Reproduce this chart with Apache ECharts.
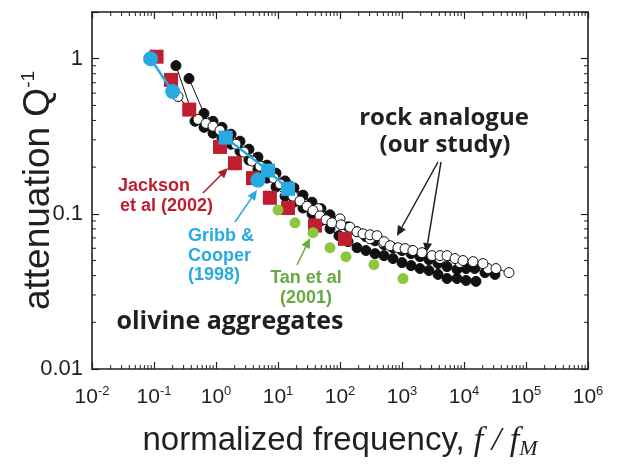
<!DOCTYPE html>
<html><head><meta charset="utf-8">
<script src="https://cdn.jsdelivr.net/npm/echarts@6/dist/echarts.min.js"></script>
<style>html,body{margin:0;padding:0;background:#fff}#c{width:617px;height:468px}</style>
</head><body><div id="c"></div>
<script>
// ---- tick data ----
const xTickExponents = [-2,-1,0,1,2,3,4,5,6];
const yTickLabels = ['0.01','0.1','1'];
const minorMultipliers = [2,3,4,5,6,7,8,9];
const xDecades = [0.01,0.1,1,10,100,1000,10000,100000];
const yDecades = [0.01,0.1,1];

// ---- series data [f/fM, Q^-1] ----
const jackson = [[0.11,1.03],[0.188,0.73],[0.37,0.47],[1.16,0.27],[2.02,0.212],[3.95,0.17],[7.4,0.127],[14.5,0.109],[39.5,0.084],[120,0.069]];
const gribbCirclesHigh = [[0.088,1.0],[0.2,0.615]];
const gribbCircleLow = [[4.75,0.165]];
const gribbSquares = [[1.43,0.31],[6.9,0.19],[14.5,0.145]];
const tan = [[10,0.106],[18.8,0.0875],[36.7,0.0756],[69,0.0605],[125,0.053],[353,0.047],[1040,0.0383]];

const rockFilledA = [[0.226,0.902],[0.458,0.395],[0.64,0.361],[0.895,0.331],[1.25,0.307],[1.75,0.281],[2.44,0.253],[3.40,0.222],[4.75,0.194],[6.65,0.170],[9.29,0.149],[13.0,0.130],[18.1,0.119],[25.3,0.109],[35.3,0.100],[49.4,0.0902],[69,0.0802],[96,0.0723],[135,0.0662],[188,0.0605],[262,0.058],[367,0.0554],[513,0.0538],[716,0.0515],[1000,0.0485],[1400,0.0464],[1950,0.0444],[2720,0.0431],[3810,0.0407],[5320,0.0383],[7710,0.0383],[10800,0.0372],[15600,0.0367]];
const rockFilledB = [[0.367,0.745],[0.64,0.444],[0.895,0.395],[1.25,0.361],[1.75,0.326],[2.44,0.294],[3.40,0.261],[4.75,0.232],[6.65,0.206],[9.29,0.183],[13.0,0.163],[18.1,0.147],[25.3,0.132],[35.3,0.119],[49.4,0.108],[69,0.0986],[96,0.0902],[135,0.0826],[188,0.0767],[262,0.0713],[367,0.0671],[513,0.0633],[716,0.0605],[1000,0.058],[1400,0.0554],[1950,0.053],[2720,0.0507],[3810,0.0478],[5320,0.0457],[7710,0.0438],[10800,0.0444],[14900,0.0444],[21800,0.0418],[31600,0.0407]];
const rockOpenA = [[0.244,0.571],[0.381,0.471],[0.513,0.406],[0.69,0.383],[0.895,0.367],[1.16,0.345],[1.56,0.321],[2.10,0.281],[2.83,0.25],[3.81,0.219],[5.13,0.203],[6.65,0.189],[8.6,0.170],[10.8,0.156],[14.0,0.143],[17.5,0.130],[22.6,0.121],[29.4,0.112],[36.7,0.105],[47.5,0.097],[59.4,0.0916],[74,0.0875],[104,0.085],[145,0.082],[188,0.0767],[235,0.0744],[305,0.0733],[395,0.0723],[513,0.0662],[640,0.0623],[861,0.0605],[1120,0.0597],[1500,0.058],[2100,0.0562],[3050,0.0538],[4100,0.0538],[5320,0.0538],[7160,0.0515],[9640,0.050],[14000,0.0492],[20200,0.0478],[32800,0.0444],[53200,0.0418]];
const rockOpenB = [[15.6,0.151],[44.2,0.108],[100,0.0929],[305,0.0691],[494,0.0652],[1450,0.058],[4100,0.0515],[8610,0.0485],[24400,0.0444]];

const INK = '#231f20';
const RED = '#be1e2d', BLUE = '#27aae1', GREEN = '#8dc63f', GREEN_TXT = '#6aa842';

const chart = echarts.init(document.getElementById('c'), null, {renderer:'canvas'});

function xLabel(v){
  const e = Math.round(Math.log10(v));
  if (Math.abs(Math.log10(v) - e) > 1e-6 || xTickExponents.indexOf(e) < 0) return '';
  return '{b|10}{s|' + e + '}';
}
function yLabel(v){
  for (const l of yTickLabels) { if (Math.abs(parseFloat(l) - v) / v < 1e-6) return l; }
  return '';
}
const tickStyle = {color: INK, width: 1.2};
function baseAxis(extra){
  return Object.assign({
    type:'log', logBase:10,
    axisLine:{show:true, lineStyle:{color:INK, width:1.6}},
    axisTick:{show:true, inside:true, length:7, lineStyle:tickStyle},
    splitLine:{show:false}, minorTick:{show:false}, minorSplitLine:{show:false},
    nameMoveOverlap:false
  }, extra);
}

function minorX(params, api){
  const cs = params.coordSys; const base = api.value(0); const ch = [];
  minorMultipliers.forEach(m => {
    const px = api.coord([base*m, 1])[0];
    ch.push({type:'line', shape:{x1:px, y1:cs.y+cs.height, x2:px, y2:cs.y+cs.height-4}, style:{stroke:INK, lineWidth:1}});
    ch.push({type:'line', shape:{x1:px, y1:cs.y, x2:px, y2:cs.y+4}, style:{stroke:INK, lineWidth:1}});
  });
  return {type:'group', children:ch};
}
function minorY(params, api){
  const cs = params.coordSys; const base = api.value(1); const ch = [];
  minorMultipliers.forEach(m => {
    if (base*m >= 1.99) return;
    const py = api.coord([1, base*m])[1];
    ch.push({type:'line', shape:{x1:cs.x, y1:py, x2:cs.x+4, y2:py}, style:{stroke:INK, lineWidth:1}});
    ch.push({type:'line', shape:{x1:cs.x+cs.width, y1:py, x2:cs.x+cs.width-4, y2:py}, style:{stroke:INK, lineWidth:1}});
  });
  return {type:'group', children:ch};
}

function arrow(x1,y1,x2,y2,color){
  const a = Math.atan2(y2-y1, x2-x1), L = 10, W = 4.5;
  const bx = x2 - L*Math.cos(a), by = y2 - L*Math.sin(a);
  return [
    {type:'line', shape:{x1:x1,y1:y1,x2:bx,y2:by}, style:{stroke:color, lineWidth:1.5}},
    {type:'polygon', shape:{points:[[x2,y2],[bx - W*Math.sin(a), by + W*Math.cos(a)],[bx + W*Math.sin(a), by - W*Math.cos(a)]]}, style:{fill:color}}
  ];
}
function txt(text, x, y, font, color, align){
  return {type:'text', style:{text:text, x:x, y:y, font:font, fill:color,
    align:align||'left', textAlign:align||'left', verticalAlign:'middle', textVerticalAlign:'middle'}};
}

const filledStyle = {color:'#111', borderColor:'#111', borderWidth:1, opacity:1};
const openStyle = {color:'#fff', borderColor:'#111', borderWidth:1, opacity:1};

const option = {
  animation:false,
  backgroundColor:'#fff',
  grid:{left:92, right:29, top:12, bottom:99, containLabel:false, outerBoundsMode:'none'},
  xAxis:[
    baseAxis({min:0.01, max:1e6, position:'bottom',
      axisLabel:{formatter:xLabel, margin:16, rich:{
        b:{fontSize:21, fontFamily:'Liberation Sans', color:INK, lineHeight:24},
        s:{fontSize:13, fontFamily:'Liberation Sans', color:INK, lineHeight:13, verticalAlign:'top'}}},
      name:'{n|normalized frequency, }{i|f / f}{sub|M}', nameLocation:'middle', nameGap:53,
      nameTextStyle:{rich:{
        n:{fontSize:33, fontFamily:'Liberation Sans', color:INK, lineHeight:38},
        i:{fontSize:34, fontFamily:'Liberation Serif', fontStyle:'italic', color:INK, lineHeight:38},
        sub:{fontSize:22, fontFamily:'Liberation Serif', fontStyle:'italic', color:INK, lineHeight:20, verticalAlign:'bottom'}}}
    }),
    baseAxis({min:0.01, max:1e6, position:'top', axisLabel:{show:false}})
  ],
  yAxis:[
    baseAxis({min:0.01, max:2, position:'left',
      axisLabel:{formatter:yLabel, margin:9, fontSize:22, fontFamily:'Liberation Sans', color:INK},
      name:'{n|attenuation Q}{s|-1}', nameLocation:'middle', nameRotate:90, nameGap:33,
      nameTextStyle:{rich:{
        n:{fontSize:37, fontFamily:'Liberation Sans', color:INK, lineHeight:40},
        s:{fontSize:19, fontFamily:'Liberation Sans', color:INK, lineHeight:19, verticalAlign:'top'}}}
    }),
    baseAxis({min:0.01, max:2, position:'right', axisLabel:{show:false}})
  ],
  series:[
    {type:'custom', renderItem:minorX, data:xDecades.map(d=>[d,1]), silent:true, clip:false, z:1},
    {type:'custom', renderItem:minorY, data:yDecades.map(d=>[1,d]), silent:true, clip:false, z:1},
    {type:'line', data:rockFilledA, symbol:'circle', symbolSize:10, showAllSymbol:true, itemStyle:filledStyle, lineStyle:{color:'#111', width:1}, z:2},
    {type:'line', data:rockFilledB, symbol:'circle', symbolSize:10, showAllSymbol:true, itemStyle:filledStyle, lineStyle:{color:'#111', width:1}, z:2},
    {type:'line', data:rockOpenB, symbol:'circle', symbolSize:10, showAllSymbol:true, itemStyle:openStyle, lineStyle:{color:'#111', width:1}, z:3},
    {type:'line', data:rockOpenA, symbol:'circle', symbolSize:10, showAllSymbol:true, itemStyle:openStyle, lineStyle:{color:'#111', width:1}, z:3},
    {type:'scatter', data:jackson, symbol:'rect', symbolSize:14, itemStyle:{color:RED, opacity:1}, z:4},
    {type:'line', data:gribbSquares, symbol:'rect', symbolSize:14, showAllSymbol:true, itemStyle:{color:BLUE, opacity:1}, lineStyle:{color:BLUE, width:2.5}, z:5},
    {type:'line', data:gribbCirclesHigh, symbol:'circle', symbolSize:15, showAllSymbol:true, itemStyle:{color:BLUE, opacity:1}, lineStyle:{color:BLUE, width:2.5}, z:5},
    {type:'scatter', data:gribbCircleLow, symbol:'circle', symbolSize:15, itemStyle:{color:BLUE, opacity:1}, z:5},
    {type:'scatter', data:tan, symbol:'circle', symbolSize:11, itemStyle:{color:GREEN, opacity:1}, z:6}
  ],
  graphic:[].concat(
    [txt('rock analogue', 444, 118, 'bold 24px "Open Sans"', '#231f20', 'center'),
     txt('(our study)', 445, 145, 'bold 24px "Open Sans"', '#231f20', 'center'),
     txt('olivine aggregates', 230, 322, 'bold 25px "Open Sans"', '#231f20', 'center'),
     txt('Jackson', 118, 186, 'bold 18px "Liberation Sans"', RED),
     txt('et al (2002)', 120, 206, 'bold 18px "Liberation Sans"', RED),
     txt('Gribb &', 188, 236, 'bold 18px "Liberation Sans"', BLUE),
     txt('Cooper', 188, 256, 'bold 18px "Liberation Sans"', BLUE),
     txt('(1998)', 188, 275, 'bold 18px "Liberation Sans"', BLUE),
     txt('Tan et al', 306, 278, 'bold 18px "Liberation Sans"', GREEN_TXT, 'center'),
     txt('(2001)', 306, 298, 'bold 18px "Liberation Sans"', GREEN_TXT, 'center')],
    arrow(438,162,397,236,'#231f20'),
    arrow(441,162,426,253,'#231f20'),
    arrow(203,193,228,168,'#a31f24'),
    arrow(235,222,257,190,BLUE),
    arrow(297,265,310,238,GREEN_TXT)
  )
};
chart.setOption(option);
</script>
</body></html>
